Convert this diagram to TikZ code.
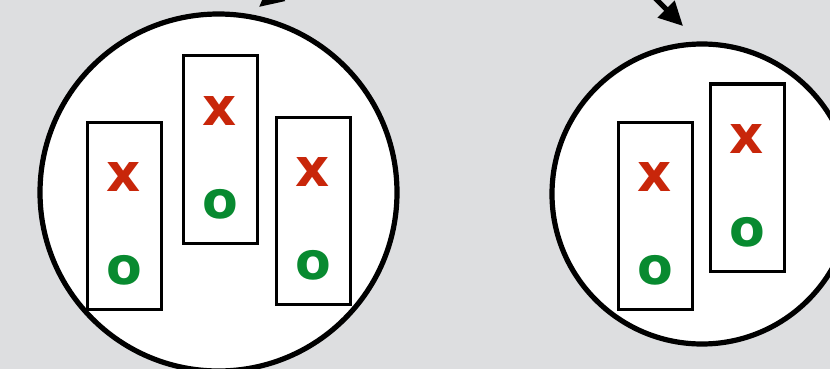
\documentclass[tikz,border=0pt]{standalone}
\usepackage{fontspec}
\setmainfont{DejaVu Sans}
\usetikzlibrary{arrows.meta}
\definecolor{bggray}{RGB}{221,222,224}
\definecolor{xred}{RGB}{200,38,10}
\definecolor{ogreen}{RGB}{8,138,48}
\begin{document}
\begin{tikzpicture}[x=1pt,y=-1pt,>={Triangle[length=24pt,width=23pt]},
    group/.style={draw,circle,line width=5.2pt,fill=white,inner sep=0pt},
    set/.style={draw,rectangle,line width=3pt,fill=white,minimum width=74pt,minimum height=187pt,inner sep=0pt},
    xmark/.style={text=xred,font=\fontsize{53}{53}\selectfont\bfseries,inner sep=0pt},
    omark/.style={text=ogreen,font=\fontsize{52}{52}\selectfont\bfseries,inner sep=0pt}]
            \fill[bggray] (0,0) rectangle (830,369);
            \useasboundingbox (0,0) rectangle (830,369);
            % left group
            \node[group,minimum size=357pt] (groupL) at (218.5,192.5) {};
            \node[set] (setA) at (124,215.5) {};
            \node[set] (setB) at (220,149.5) {};
            \node[set] (setC) at (313,210.5) {};
            \node[xmark] (xA) at ([yshift=38.5pt]setA.center) {x};
            \node[omark] (oA) at ([yshift=-54.5pt]setA.center) {o};
            \node[xmark] (xB) at ([yshift=38.5pt]setB.center) {x};
            \node[omark] (oB) at ([yshift=-54.5pt]setB.center) {o};
            \node[xmark] (xC) at ([yshift=38.5pt]setC.center) {x};
            \node[omark] (oC) at ([yshift=-54.5pt]setC.center) {o};
            % right group
            \node[group,minimum size=300pt] (groupR) at (702,194) {};
            \node[set] (setD) at (655,215.5) {};
            \node[set] (setE) at (747,177.5) {};
            \node[xmark] (xD) at ([yshift=38.5pt]setD.center) {x};
            \node[omark] (oD) at ([yshift=-54.5pt]setD.center) {o};
            \node[xmark] (xE) at ([yshift=38.5pt]setE.center) {x};
            \node[omark] (oE) at ([yshift=-54.5pt]setE.center) {o};
            % arrows from above
            \coordinate (fromL) at (319,-43);
            \coordinate (tipL) at (259,7);
            \coordinate (fromR) at (641,-16);
            \coordinate (tipR) at (683,26);
            \draw[->,line width=5pt] (fromL) -- (tipL);
            \draw[->,line width=5pt] (fromR) -- (tipR);
        \end{tikzpicture}
\end{document}
